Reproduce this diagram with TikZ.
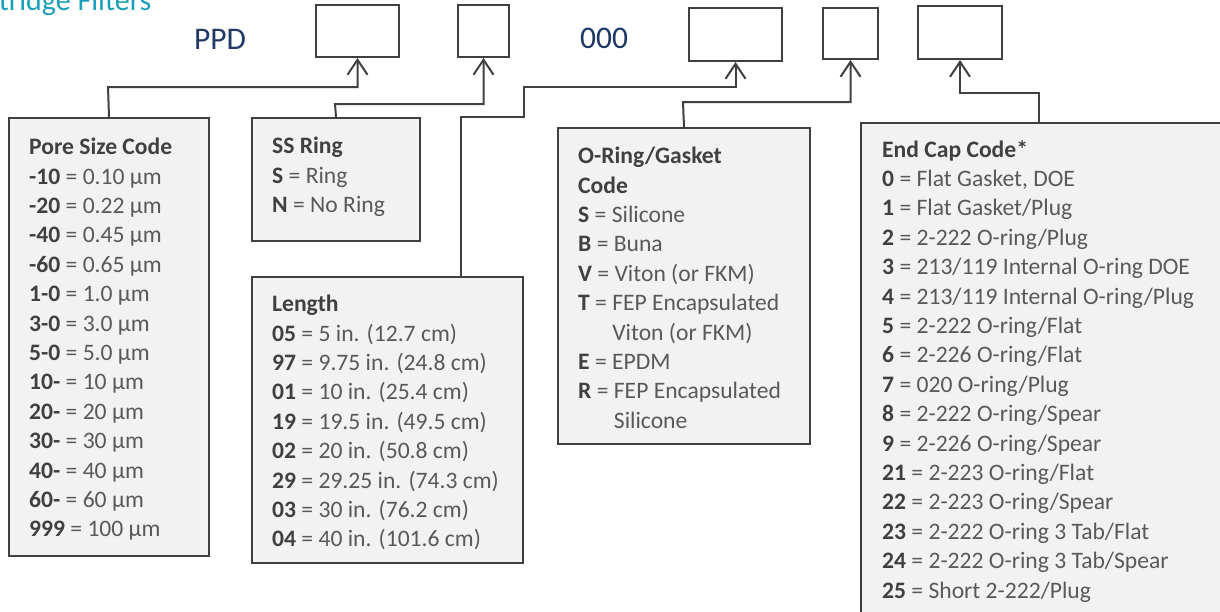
\documentclass[tikz,border=0pt]{standalone}
\usepackage{fontspec}
\setmainfont{Carlito}
\usetikzlibrary{arrows.meta}
\definecolor{tcol}{RGB}{26,160,184}
\definecolor{ncol}{RGB}{31,56,100}
\definecolor{lcol}{RGB}{64,64,64}
\definecolor{vcol}{RGB}{89,89,89}
\definecolor{pcol}{RGB}{242,242,242}
\tikzset{every picture/.style={x=1pt,y=-1pt}}
\tikzset{slot/.style={rectangle,draw=lcol,line width=2,fill=white,inner sep=0}}
\tikzset{panel/.style={rectangle,draw=lcol,line width=2,fill=pcol,inner sep=0,anchor=north west}}
\tikzset{entries/.style={anchor=north west,align=left,inner sep=0,text=vcol,font=\fontsize{23.6}{29.4}\selectfont}}
\tikzset{link/.style={draw=lcol,line width=2,-{Straight Barb[length=15,width=20]}}}
\newcommand{\cd}[1]{\textbf{\color{lcol}#1}}

\begin{document}
\begin{tikzpicture}
\useasboundingbox (0,0) rectangle (1220,611);
\clip (0,0) rectangle (1220,611);

\node [text=tcol,font=\fontsize{30}{34}\selectfont,anchor=base east] (title) at (155,10) {Cartridge Filters};
\node [text=ncol,font=\fontsize{31.5}{36}\selectfont] (ppd) at (220,39) {PPD};
\node [text=ncol,font=\fontsize{31.5}{36}\selectfont] (zeros) at (604,38) {000};

\node [slot,minimum width=83,minimum height=52] (s1) at (357.5,31) {};
\node [slot,minimum width=51,minimum height=52] (s2) at (483.5,31) {};
\node [slot,minimum width=93,minimum height=53] (s3) at (735.5,34.5) {};
\node [slot,minimum width=55,minimum height=51] (s4) at (850.5,33.5) {};
\node [slot,minimum width=84,minimum height=53] (s5) at (960,32.5) {};

\node [panel,minimum width=200,minimum height=438] (pore) at (8,117) {};
\node [panel,minimum width=168,minimum height=123] (ssr) at (251,117) {};
\node [panel,minimum width=271,minimum height=286] (len) at (251,276) {};
\node [panel,minimum width=252,minimum height=316] (ore) at (557,127) {};
\node [panel,minimum width=380,minimum height=520] (cap) at (860,122) {};

\node [entries] (poretxt) at (29,138) {\cd{Pore Size Code}\\
\cd{-10} = 0.10 µm\\
\cd{-20} = 0.22 µm\\
\cd{-40} = 0.45 µm\\
\cd{-60} = 0.65 µm\\
\cd{1-0} = 1.0 µm\\
\cd{3-0} = 3.0 µm\\
\cd{5-0} = 5.0 µm\\
\cd{10-} = 10 µm\\
\cd{20-} = 20 µm\\
\cd{30-} = 30 µm\\
\cd{40-} = 40 µm\\
\cd{60-} = 60 µm\\
\cd{999} = 100 µm};

\node [entries] (ssrtxt) at (272,137) {\cd{SS Ring}\\
\cd{S} = Ring\\
\cd{N} = No Ring};

\node [entries] (lentxt) at (272,295) {\cd{Length}\\
\cd{05} = 5 in. (12.7 cm)\\
\cd{97} = 9.75 in. (24.8 cm)\\
\cd{01} = 10 in. (25.4 cm)\\
\cd{19} = 19.5 in. (49.5 cm)\\
\cd{02} = 20 in. (50.8 cm)\\
\cd{29} = 29.25 in. (74.3 cm)\\
\cd{03} = 30 in. (76.2 cm)\\
\cd{04} = 40 in. (101.6 cm)};

\node [entries] (oretxt) at (578,147) {\cd{O-Ring/Gasket}\\
\cd{Code}\\
\cd{S} = Silicone\\
\cd{B} = Buna\\
\cd{V} = Viton (or FKM)\\
\cd{T} = FEP Encapsulated\\
\phantom{\cd{T} = }Viton (or FKM)\\
\cd{E} = EPDM\\
\cd{R} = FEP Encapsulated\\
\phantom{\cd{R} = }Silicone};

\node [entries] (captxt) at (882,140) {\cd{End Cap Code*}\\
\cd{0} = Flat Gasket, DOE\\
\cd{1} = Flat Gasket/Plug\\
\cd{2} = 2-222 O-ring/Plug\\
\cd{3} = 213/119 Internal O-ring DOE\\
\cd{4} = 213/119 Internal O-ring/Plug\\
\cd{5} = 2-222 O-ring/Flat\\
\cd{6} = 2-226 O-ring/Flat\\
\cd{7} = 020 O-ring/Plug\\
\cd{8} = 2-222 O-ring/Spear\\
\cd{9} = 2-226 O-ring/Spear\\
\cd{21} = 2-223 O-ring/Flat\\
\cd{22} = 2-223 O-ring/Spear\\
\cd{23} = 2-222 O-ring 3 Tab/Flat\\
\cd{24} = 2-222 O-ring 3 Tab/Spear\\
\cd{25} = Short 2-222/Plug};

\coordinate (k1) at (108,87);
\coordinate (k2) at (335,104);
\coordinate (k3) at (461,117);
\coordinate (k4) at (524,117);
\coordinate (k5) at (524,87);
\coordinate (k6) at (683,102);
\coordinate (k7) at (1039,93);

\draw [link] (pore.north) -- (k1) -| (s1.south);
\draw [link] (ssr.north) -- (k2) -| (s2.south);
\draw [link] (k3 |- len.north) -- (k3) -- (k4) -- (k5) -| (s3.south);
\draw [link] (ore.north) -- (k6) -| (s4.south);
\draw [link] (k7 |- cap.north) -- (k7) -| (s5.south);
\end{tikzpicture}
\end{document}
